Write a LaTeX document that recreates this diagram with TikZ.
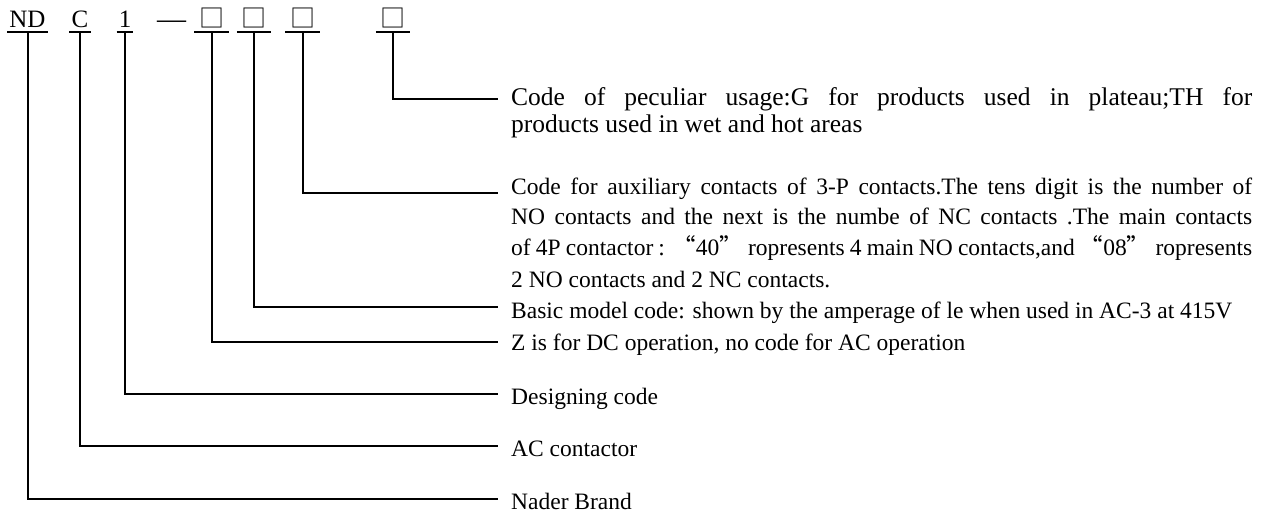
\documentclass[tikz,border=0pt]{standalone}
\usepackage{fontspec}
\setmainfont{Liberation Serif}
\newfontfamily\cjk{Noto Sans CJK SC}
\usetikzlibrary{positioning}

\begin{document}
\begin{tikzpicture}[x=1pt, y=-1pt]
\tikzstyle{part} = [anchor=south, inner xsep=2pt, inner ysep=4.5pt, text depth=0pt, font=\fontsize{25}{27}\selectfont]
\tikzstyle{slot} = [part, inner xsep=4.5pt, font=\cjk\fontsize{25}{27}\selectfont]
\tikzstyle{desc} = [anchor=base west, inner sep=0pt, font=\fontsize{23.5}{31}\selectfont]
\tikzstyle{line} = [draw, line width=2pt]

\useasboundingbox (0,0) rectangle (1271,513);

% model code
\node [part] (brand) at (27.5,32.5) {ND};
\node [part] (kind) at (80,32.5) {C};
\node [part] (design) at (125,32.5) {1};
\node [anchor=base, inner sep=0pt, font=\fontsize{29}{30}\selectfont] (dash) at (171.5,29) {—};
\node [slot] (oper) at (211.5,32.5) {□};
\node [slot] (rating) at (254,32.5) {□};
\node [slot] (aux) at (302.5,32.5) {□};
\node [slot] (usage) at (393,32.5) {□};

\foreach \p in {brand,kind,design,oper,rating,aux,usage}
  \path [line] (\p.south west) -- (\p.south east);

% explanations
\node [desc, text width=741pt, align=justify, font=\fontsize{25.5}{27}\selectfont] (usagetxt) at (511,106) {Code of peculiar usage:G for products used in plateau;TH for\linebreak products used in wet and hot areas};
\node [desc, text width=741pt, align=justify] (auxtxt) at (511,194) {Code for auxiliary contacts of 3-P contacts.The tens digit is the number of\linebreak NO contacts and the next is the numbe of NC contacts .The main contacts\linebreak of 4P contactor : {\cjk “}40{\cjk ”} ropresents 4 main NO contacts,and {\cjk “}08{\cjk ”} ropresents\linebreak 2 NO contacts and 2 NC contacts.};
\node [desc] (ratingtxt) at (511,318) {Basic model code: shown by the amperage of le when used in AC-3 at 415V};
\node [desc] (opertxt) at (511,350) {Z is for DC operation, no code for AC operation};
\node [desc] (designtxt) at (511,404) {Designing code};
\node [desc] (kindtxt) at (511,456) {AC contactor};
\node [desc] (brandtxt) at (511,509) {Nader Brand};

% line ends
\coordinate (usageend) at (498,99);
\coordinate (auxend) at (498,193);
\coordinate (ratingend) at (498,307);
\coordinate (operend) at (498,342);
\coordinate (designend) at (498,394);
\coordinate (kindend) at (498,446);
\coordinate (brandend) at (498,499);

\foreach \p in {brand,kind,design,oper,rating,aux,usage}
  \path [line] (\p.south) |- (\p end);
\end{tikzpicture}
\end{document}
